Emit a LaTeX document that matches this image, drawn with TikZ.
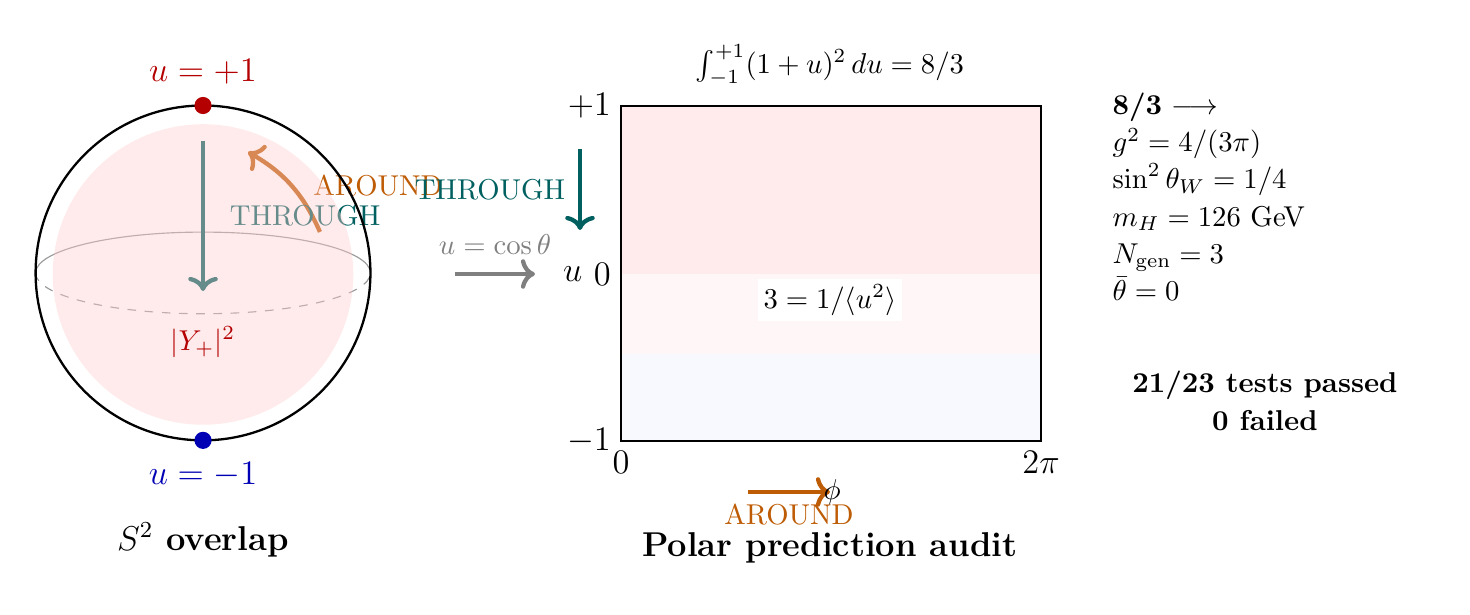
\documentclass[tikz,border=0pt]{standalone}
\usepackage{amsmath,amssymb}
\usetikzlibrary{arrows.meta,positioning,calc}
\definecolor{poleRed}{RGB}{180,0,0}
\definecolor{poleBlue}{RGB}{0,0,180}
\definecolor{throughTeal}{RGB}{0,96,96}
\definecolor{aroundOrange}{RGB}{190,92,5}
\definecolor{bandPink}{RGB}{255,235,235}
\definecolor{bandPale}{RGB}{255,247,247}
\definecolor{bandBlue}{RGB}{248,248,255}

\begin{document}
\begin{tikzpicture}[
    pole/.style={circle,fill,inner sep=0pt,minimum size=0.21cm},
    flow/.style={->,line width=1.5pt},
  ]
  \useasboundingbox (0,0) rectangle (18,7.53);
  % S^2 sphere
  \coordinate (ctr) at (2.486,4.188);
  \draw[gray!80,thin] ($(ctr)+(-2.05,0)$) arc (180:0:2.05 and 0.5);
  \draw[gray!80,thin,dashed] ($(ctr)+(-2.05,0)$) arc (180:360:2.05 and 0.5);
  \coordinate (thrA) at (2.486,5.804);
  \coordinate (thrB) at (2.486,3.967);
  \draw[flow,throughTeal] (thrA) -- (thrB);
  \coordinate (aroA) at (3.918,4.690);
  \coordinate (aroB) at (3.037,5.669);
  \draw[flow,aroundOrange] (aroA) to[bend right=18] (aroB);
  \node[throughTeal] (thrLabel) at (3.735,4.886) {THROUGH};
  \node[aroundOrange] (aroLabel) at (4.628,5.253) {AROUND};
  \fill[red!20,opacity=0.4] (2.486,4.169) circle (1.84);
  \draw[thick] (ctr) circle (2.05);
  \node[pole,poleRed] (np) at (2.486,6.238) {};
  \node[pole,poleBlue] (sp) at (2.486,2.138) {};
  \node[poleRed,font=\large] (npLabel) at (2.486,6.649) {$u=+1$};
  \node[poleBlue,font=\large] (spLabel) at (2.486,1.714) {$u=-1$};
  \node[poleRed] (ylm) at (2.486,3.343) {$|Y_+|^2$};
  \node[font=\large\bfseries] (sphTitle) at (2.486,0.918) {$S^2$ overlap};
  % map to the (phi,u) strip
  \node[throughTeal] (thrLabelB) at (6.0,5.204) {THROUGH};
  \coordinate (thrC) at (7.102,5.706);
  \coordinate (thrD) at (7.102,4.714);
  \draw[flow,throughTeal] (thrC) -- (thrD);
  \node[gray] (mapLabel) at (6.061,4.530) {$u=\cos\theta$};
  \coordinate (mapA) at (5.571,4.175);
  \coordinate (mapB) at (6.551,4.175);
  \draw[flow,gray] (mapA) -- (mapB);
  % strip
  \coordinate (sw) at (7.604,2.131);
  \coordinate (ne) at (12.747,6.232);
  \fill[bandPink] (7.604,4.175) rectangle (ne);
  \fill[bandPale] (7.604,3.196) rectangle (12.747,4.175);
  \fill[bandBlue] (sw) rectangle (12.747,3.196);
  \draw[thick] (sw) rectangle (ne);
  \node[anchor=east,font=\large] (tickTop) at (7.604,6.232) {$+1$};
  \node[anchor=east,font=\large] (tickMid) at (7.604,4.175) {$0$};
  \node[left=-3pt of tickMid,font=\large] (uAxis) {$u$};
  \node[anchor=east,font=\large] (tickBot) at (7.604,2.131) {$-1$};
  \node[anchor=north,font=\large] (tickL) at (sw) {$0$};
  \node[anchor=north,font=\large] (tickR) at (12.747,2.131) {$2\pi$};
  \node[fill=white,inner sep=2pt] (invU) at (10.163,3.857) {$3=1/\langle u^2\rangle$};
  \node (intLabel) at (10.163,6.734) {$\int_{-1}^{+1}(1+u)^2\,du=8/3$};
  \coordinate (aroC) at (9.159,1.506);
  \coordinate (aroD) at (10.163,1.506);
  \draw[flow,aroundOrange] (aroC) -- (aroD);
  \node (phiAxis) at (10.19,1.506) {$\phi$};
  \node[aroundOrange] (aroLabelB) at (9.661,1.224) {AROUND};
  \node[font=\large\bfseries] (stripTitle) at (10.163,0.820) {Polar prediction audit};
  % predictions
  \node[anchor=north west,align=left] (preds) at (13.5,6.52)
    {\textbf{8/3} $\longrightarrow$\\[1pt]
     $g^2=4/(3\pi)$\\[1pt]
     $\sin^2\theta_W=1/4$\\[1pt]
     $m_H=126$ GeV\\[1pt]
     $N_{\text{gen}}=3$\\[1pt]
     $\bar\theta=0$};
  \node[align=center,font=\bfseries] (tests) at (15.489,2.62)
    {21/23 tests passed\\[1pt] 0 failed};
\end{tikzpicture}
\end{document}
